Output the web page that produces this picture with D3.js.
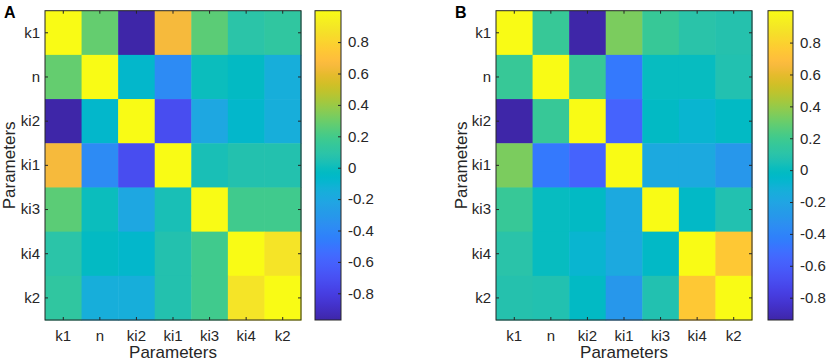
<!DOCTYPE html>
<html>
<head>
<meta charset="utf-8">
<script src="https://cdn.jsdelivr.net/npm/d3@7"></script>
<style>
  html, body { margin: 0; padding: 0; background: #fff; }
  svg text { font-family: "Liberation Sans", Arial, sans-serif; fill: #262626; }
</style>
</head>
<body>
<div id="chart"></div>
<script>
// parameter order (rows = columns)
const params = ["k1", "n", "ki2", "ki1", "ki3", "ki4", "k2"];

// correlation matrix, panel A
const corrA = [
  [1, 0.28, -0.97, 0.65, 0.26, 0.09, 0.12],
  [0.28, 1, -0.07, -0.38, 0.0, -0.03, -0.15],
  [-0.97, -0.07, 1, -0.72, -0.2, -0.07, -0.15],
  [0.65, -0.38, -0.72, 1, 0.03, 0.06, 0.06],
  [0.26, 0.0, -0.2, 0.03, 1, 0.19, 0.19],
  [0.09, -0.03, -0.07, 0.06, 0.19, 1, 0.88],
  [0.12, -0.15, -0.15, 0.06, 0.19, 0.88, 1]
];

// correlation matrix, panel B
const corrB = [
  [1, 0.17, -0.94, 0.34, 0.17, 0.1, 0.08],
  [0.17, 1, 0.17, -0.46, 0.0, 0.0, 0.07],
  [-0.94, 0.17, 1, -0.57, -0.02, -0.08, -0.02],
  [0.34, -0.46, -0.57, 1, -0.17, -0.17, -0.29],
  [0.17, 0.0, -0.02, -0.17, 1, -0.03, 0.07],
  [0.1, 0.0, -0.08, -0.17, -0.03, 1, 0.75],
  [0.08, 0.07, -0.02, -0.29, 0.07, 0.75, 1]
];

const cbTicks = [-0.8, -0.6, -0.4, -0.2, 0, 0.2, 0.4, 0.6, 0.8];

// matlab parula (64)
const parula = [
  [0.2422,0.1504,0.6603],[0.2504,0.1650,0.7076],[0.2578,0.1818,0.7511],[0.2647,0.1978,0.7952],
  [0.2706,0.2147,0.8364],[0.2751,0.2342,0.8710],[0.2783,0.2559,0.8991],[0.2803,0.2782,0.9221],
  [0.2813,0.3006,0.9414],[0.2810,0.3228,0.9579],[0.2795,0.3447,0.9717],[0.2760,0.3667,0.9829],
  [0.2699,0.3892,0.9906],[0.2602,0.4123,0.9952],[0.2440,0.4358,0.9988],[0.2206,0.4603,0.9973],
  [0.1963,0.4847,0.9892],[0.1834,0.5074,0.9798],[0.1786,0.5289,0.9682],[0.1764,0.5499,0.9520],
  [0.1687,0.5703,0.9359],[0.1540,0.5902,0.9218],[0.1460,0.6091,0.9079],[0.1380,0.6276,0.8973],
  [0.1248,0.6459,0.8883],[0.1113,0.6635,0.8763],[0.0952,0.6798,0.8598],[0.0689,0.6948,0.8394],
  [0.0297,0.7082,0.8163],[0.0036,0.7203,0.7917],[0.0067,0.7312,0.7660],[0.0433,0.7411,0.7394],
  [0.0964,0.7500,0.7120],[0.1408,0.7584,0.6842],[0.1717,0.7670,0.6554],[0.1938,0.7758,0.6251],
  [0.2161,0.7843,0.5923],[0.2470,0.7918,0.5567],[0.2906,0.7973,0.5188],[0.3406,0.8008,0.4789],
  [0.3909,0.8029,0.4354],[0.4456,0.8024,0.3909],[0.5044,0.7993,0.3480],[0.5616,0.7942,0.3045],
  [0.6174,0.7876,0.2612],[0.6720,0.7793,0.2227],[0.7242,0.7698,0.1910],[0.7738,0.7598,0.1646],
  [0.8203,0.7498,0.1535],[0.8634,0.7406,0.1596],[0.9035,0.7330,0.1774],[0.9393,0.7288,0.2100],
  [0.9728,0.7298,0.2394],[0.9956,0.7434,0.2371],[0.9970,0.7659,0.2199],[0.9952,0.7893,0.2028],
  [0.9892,0.8136,0.1885],[0.9786,0.8386,0.1766],[0.9676,0.8639,0.1643],[0.9610,0.8890,0.1537],
  [0.9597,0.9135,0.1423],[0.9628,0.9373,0.1265],[0.9691,0.9606,0.1064],[0.9769,0.9839,0.0805]
].map(c => d3.rgb(c[0] * 255, c[1] * 255, c[2] * 255).formatHex());

const interpParula = d3.piecewise(d3.interpolateRgb, parula);

const width = 829, height = 364;
const axisColor = "#262626";

const svg = d3.select("#chart").append("svg")
  .attr("width", width).attr("height", height)
  .style("display", "block");

svg.append("rect").attr("width", width).attr("height", height).attr("fill", "#fff");

const panels = [
  { letter: "A", data: corrA, left: 45, right: 301, cbLeft: 315, cbRight: 341, letterX: 4, titleX: 15 },
  { letter: "B", data: corrB, left: 496, right: 752, cbLeft: 768, cbRight: 793, letterX: 455, titleX: 467 }
];

const plotTop = 10.7, plotBottom = 320;

// matlab style labels: plain hyphen for negatives
const fmtTick = d => d === 0 ? "0" : d3.format(".1f")(d).replace("\u2212", "-");

panels.forEach((p, pi) => desenharPainel(p, pi));

function desenharPainel(p, pi) {
  const g = svg.append("g");
  const cells = [];
  p.data.forEach((row, i) => row.forEach((v, j) => cells.push({ r: params[i], c: params[j], v })));

  const ext = d3.extent(cells, d => d.v);
  const color = d3.scaleSequential(interpParula).domain(ext);

  const x = d3.scaleBand().domain(params).range([p.left, p.right]);
  const y = d3.scaleBand().domain(params).range([plotTop, plotBottom]);

  g.selectAll("rect.cell")
    .data(cells).join("rect")
    .attr("class", "cell")
    .attr("x", d => x(d.c))
    .attr("y", d => y(d.r))
    .attr("width", x.bandwidth() + 0.5)
    .attr("height", y.bandwidth() + 0.5)
    .attr("fill", d => color(d.v));

  // axes (ticks pointing inward, box on)
  const tk = 3;
  const ax = g.append("g").attr("transform", `translate(0,${plotBottom})`)
    .call(d3.axisBottom(x).tickSizeInner(-tk).tickSizeOuter(0).tickPadding(10));
  const axTop = g.append("g").attr("transform", `translate(0,${plotTop})`)
    .call(d3.axisTop(x).tickSizeInner(-tk).tickSizeOuter(0).tickFormat(""));
  const ay = g.append("g").attr("transform", `translate(${p.left},0)`)
    .call(d3.axisLeft(y).tickSizeInner(-tk).tickSizeOuter(0).tickPadding(5));
  const ayR = g.append("g").attr("transform", `translate(${p.right},0)`)
    .call(d3.axisRight(y).tickSizeInner(-tk).tickSizeOuter(0).tickFormat(""));

  [ax, axTop, ay, ayR].forEach(a => {
    a.select(".domain").remove();
    a.selectAll("line").attr("stroke", axisColor);
    a.selectAll("text").style("font-size", "15px").attr("fill", axisColor);
  });

  g.append("rect")
    .attr("x", p.left).attr("y", plotTop)
    .attr("width", p.right - p.left).attr("height", plotBottom - plotTop)
    .attr("fill", "none").attr("stroke", axisColor).attr("stroke-width", 1);

  // axis titles
  g.append("text")
    .attr("x", (p.left + p.right) / 2).attr("y", 358)
    .attr("text-anchor", "middle")
    .style("font-size", "17px")
    .text("Parameters");

  g.append("text")
    .attr("transform", `translate(${p.titleX},${(plotTop + plotBottom) / 2}) rotate(-90)`)
    .attr("text-anchor", "middle")
    .style("font-size", "17px")
    .text("Parameters");

  // panel letter
  g.append("text")
    .attr("x", p.letterX).attr("y", 18)
    .style("font-size", "16px").style("font-weight", "bold")
    .style("fill", "#000")
    .text(p.letter);

  // colorbar
  const cy = d3.scaleLinear().domain(ext).range([plotBottom, plotTop]);
  const gradId = "grad" + pi;
  const grad = svg.append("defs").append("linearGradient")
    .attr("id", gradId)
    .attr("x1", 0).attr("y1", 1).attr("x2", 0).attr("y2", 0);
  grad.selectAll("stop")
    .data(parula).join("stop")
    .attr("offset", (d, i) => i / (parula.length - 1))
    .attr("stop-color", d => d);

  g.append("rect")
    .attr("x", p.cbLeft).attr("y", plotTop)
    .attr("width", p.cbRight - p.cbLeft).attr("height", plotBottom - plotTop)
    .attr("fill", `url(#${gradId})`)
    .attr("stroke", axisColor).attr("stroke-width", 1);

  const cbAxis = g.append("g").attr("transform", `translate(${p.cbRight},0)`)
    .call(d3.axisRight(cy).tickValues(cbTicks).tickSizeInner(-tk).tickSizeOuter(0).tickPadding(7)
      .tickFormat(fmtTick));
  cbAxis.select(".domain").remove();
  cbAxis.selectAll("line").attr("stroke", axisColor);
  cbAxis.selectAll("text").style("font-size", "15px").attr("fill", axisColor);
}
</script>
</body>
</html>
